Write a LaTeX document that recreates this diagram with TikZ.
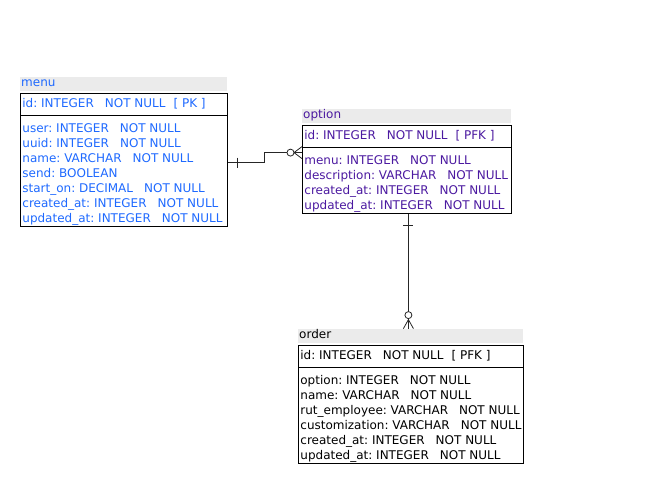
\documentclass[tikz,border=0pt]{standalone}
\usepackage{fontspec}
\setmainfont{DejaVu Sans}
\usetikzlibrary{shapes.multipart,positioning}
\definecolor{menublue}{RGB}{30,105,255}
\definecolor{optpurple}{RGB}{75,25,160}
\definecolor{bandgray}{RGB}{235,235,235}
\newcommand{\nn}{\hspace{11pt}NOT NULL}
\newcommand{\keyrow}{\rule[-6pt]{0pt}{19pt}}
\newcommand{\toprow}{\rule{0pt}{16pt}}
\newcommand{\lastrow}{\rule[-2pt]{0pt}{2pt}}
\tikzset{
  entity/.style={rectangle split, rectangle split parts=2, draw=black, line width=0.8pt,
    rectangle split part align=left, anchor=north west, align=left,
    inner xsep=2pt, inner ysep=1pt, text=#1,
    font=\fontsize{12}{15}\selectfont\frenchspacing},
  band/.style={fill=bandgray, align=left, inner xsep=1pt, inner ysep=1pt,
    text height=9pt, text depth=3pt, text=#1, font=\fontsize{12}{15}\selectfont},
  link/.style={line width=0.8pt, draw=black!85}
}
\begin{document}
\begin{tikzpicture}[x=1pt, y=-1pt]
\useasboundingbox (0,0) rectangle (647,503);
% tables
\node[entity=menublue, minimum width=207pt] (menu) at (20,93)
  {\keyrow id: INTEGER\nn\hspace{8pt}[ PK ]
   \nodepart{two}\toprow user: INTEGER\nn\\
   uuid: INTEGER\nn\\
   name: VARCHAR\nn\\
   send: BOOLEAN\\
   start\_on: DECIMAL\nn\\
   created\_at: INTEGER\nn\\
   updated\_at: INTEGER\nn\lastrow};
\node[band=menublue, text width=205pt, above right=2pt and 0pt of menu.north west] (menutitle) {menu};

\node[entity=optpurple, minimum width=209pt] (option) at (302,125)
  {\keyrow id: INTEGER\nn\hspace{8pt}[ PFK ]
   \nodepart{two}\toprow menu: INTEGER\nn\\
   description: VARCHAR\nn\\
   created\_at: INTEGER\nn\\
   updated\_at: INTEGER\nn\lastrow};
\node[band=optpurple, text width=207pt, above right=2pt and 0pt of option.north west] (optiontitle) {option};

\node[entity=black, minimum width=225pt] (order) at (298,345)
  {\keyrow id: INTEGER\nn\hspace{8pt}[ PFK ]
   \nodepart{two}\toprow option: INTEGER\nn\\
   name: VARCHAR\nn\\
   rut\_employee: VARCHAR\nn\\
   customization: VARCHAR\nn\\
   created\_at: INTEGER\nn\\
   updated\_at: INTEGER\nn\lastrow};
\node[band=black, text width=223pt, above right=2pt and 0pt of order.north west] (ordertitle) {order};

% menu -- option (one to zero-or-many)
\coordinate (m) at ([yshift=-2.5pt]menu.east);
\coordinate (o) at ([yshift=17pt]option.west);
\draw[link] (m) -- ++(37,0) |- (o);
\draw[link] ([xshift=10pt]m) ++(0,-5) -- ++(0,10);
\draw[link, fill=white] ([xshift=-11.5pt]o) circle (3.5pt);
\draw[link] ([xshift=-8pt]o) -- ++(8,-6) ([xshift=-8pt]o) -- ++(8,6);

% option -- order (one to zero-or-many)
\coordinate (p) at ([xshift=1.5pt]option.south);
\coordinate (q) at (p |- ordertitle.north);
\draw[link] (p) -- (q);
\draw[link] ([yshift=-11pt]p) ++(-5,0) -- ++(10,0);
\draw[link, fill=white] ([yshift=13.5pt]q) circle (3.5pt);
\draw[link] ([yshift=9pt]q) -- ++(-5,9) ([yshift=9pt]q) -- ++(5,9);
\end{tikzpicture}
\end{document}
